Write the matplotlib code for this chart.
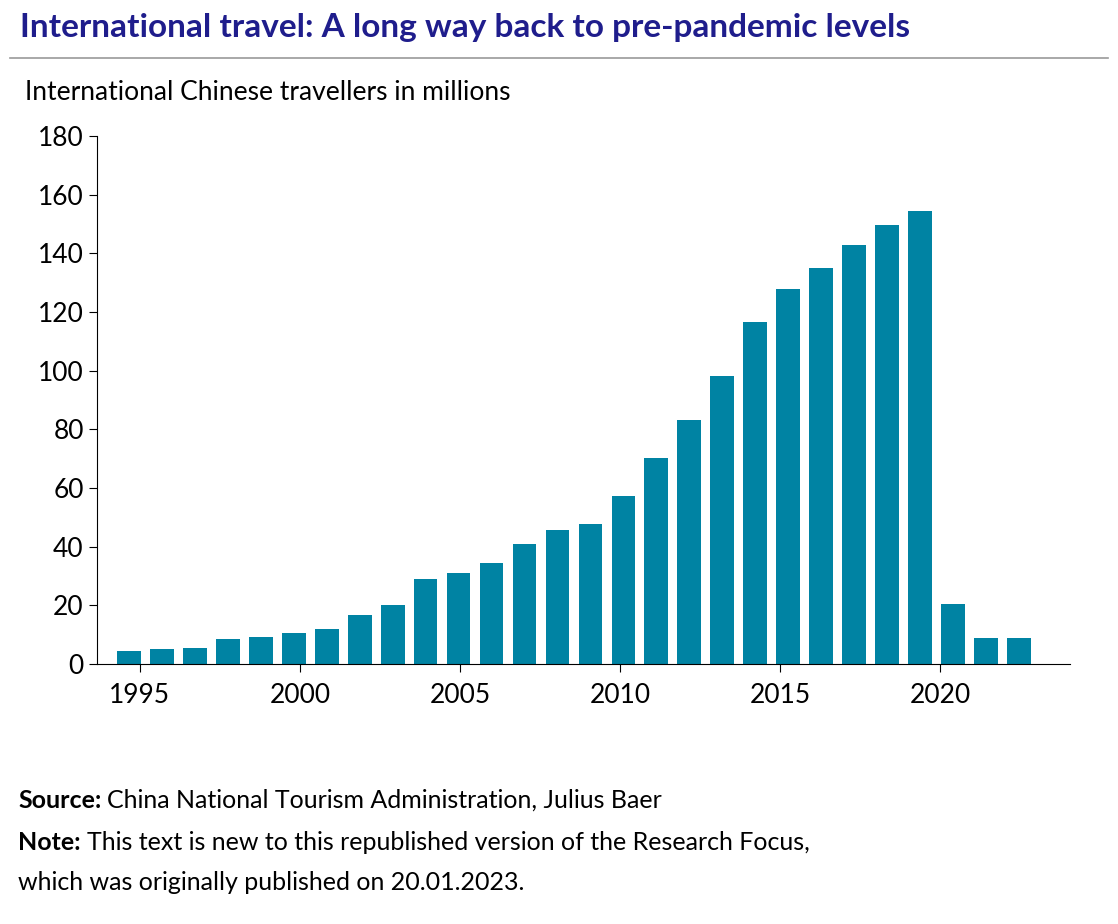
import matplotlib.pyplot as plt

plt.rcParams['font.family'] = ['Lato', 'DejaVu Sans']

years = list(range(1995, 2023))
travellers = [4.5, 5.0, 5.3, 8.4, 9.2, 10.5, 12.1, 16.6, 20.2, 28.9, 31.0, 34.5,
              41.0, 45.8, 47.7, 57.4, 70.3, 83.2, 98.2, 116.6, 127.9, 135.0,
              143.0, 149.7, 154.6, 20.3, 8.9, 8.7]
yticks = list(range(0, 181, 20))
xtick_labels = ['1995', '2000', '2005', '2010', '2015', '2020']
# label positions sit slightly off the bar centres in the original
xtick_pos = [1995.33, 2000.19, 2005.04, 2009.9, 2014.76, 2019.61]

fig = plt.figure(figsize=(11.18, 9.24), dpi=100)
ax = fig.add_axes([97 / 1118, 1 - 664 / 924, (1070 - 97) / 1118, (664 - 136) / 924])

ax.bar(years, travellers, width=0.72, color='#0083A3')
ax.set_xlim(1994.03, 2023.55)
ax.set_ylim(0, 180)
ax.set_yticks(yticks)
ax.set_xticks(xtick_pos, xtick_labels)
ax.tick_params(axis='both', labelsize=19, direction='out', length=6, color='black')
ax.tick_params(axis='x', pad=8)
for s in ['top', 'right']:
    ax.spines[s].set_visible(False)

fig.text(20 / 1118, 1 - 28 / 924, 'International travel: A long way back to pre-pandemic levels',
         fontsize=24, fontweight='bold', color='#1F1D8C', va='center')
fig.add_artist(plt.Line2D([10 / 1118, 1108 / 1118], [1 - 58 / 924] * 2, color='#999999', lw=1.2))
fig.text(25 / 1118, 1 - 92 / 924, 'International Chinese travellers in millions', fontsize=19, va='center')

def footer(y, bold, rest):
    t = fig.text(18 / 1118, 1 - y / 924, bold, fontsize=18, fontweight='bold', va='center')
    fig.canvas.draw()
    bb = t.get_window_extent()
    fig.text(bb.x1 / 1118 + 6 / 1118, 1 - y / 924, rest, fontsize=18, va='center')

footer(800, 'Source:', 'China National Tourism Administration, Julius Baer')
footer(842, 'Note:', 'This text is new to this republished version of the Research Focus,')
fig.text(18 / 1118, 1 - 882 / 924, 'which was originally published on 20.01.2023.',
         fontsize=18, va='center')

fig.savefig('out.png', dpi=100)
